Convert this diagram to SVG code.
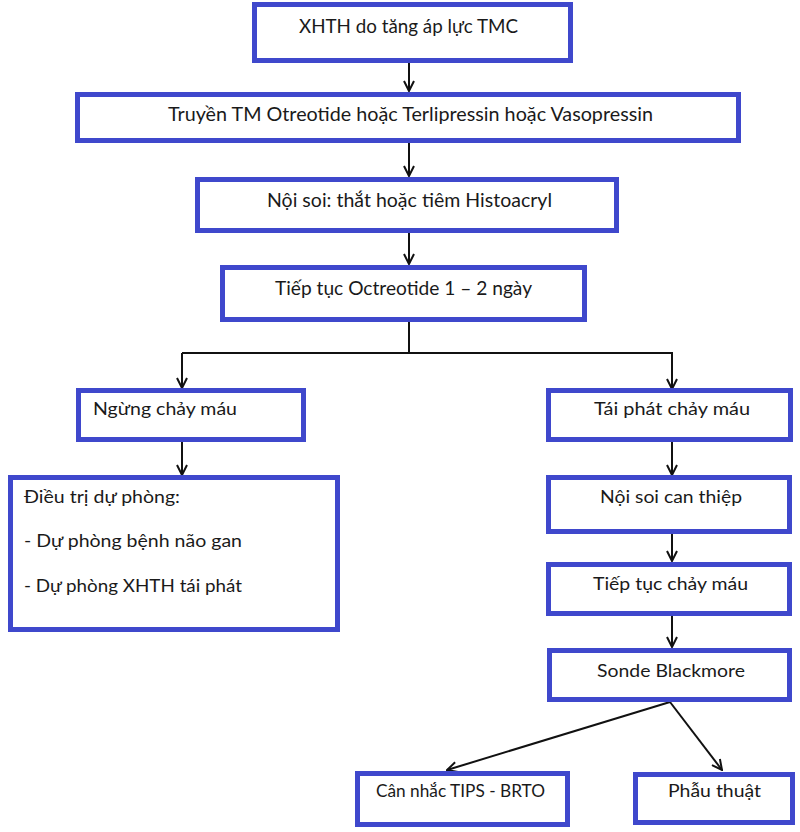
<svg xmlns="http://www.w3.org/2000/svg" width="800" height="832" viewBox="0 0 800 832">
<defs>
<style>
.box{fill:#fff;stroke:#3F48CC;stroke-width:5}
.t{font-family:Lato,"Open Sans","Liberation Sans",sans-serif;font-size:19px;fill:#1a1a1a}
.s{font-size:18px}
.c{text-anchor:middle}
.ln{fill:none;stroke:#111;stroke-width:2}
</style>
<marker id="ah" viewBox="0 0 12 12" refX="11" refY="6" markerWidth="12" markerHeight="12" markerUnits="userSpaceOnUse" orient="auto">
<path d="M1,1 L11,6 L1,11" fill="none" stroke="#111" stroke-width="2"/>
</marker>
</defs>
<rect width="800" height="832" fill="#fff"/>
<g id="connectors">
<line class="ln" x1="409" y1="62" x2="409" y2="91" marker-end="url(#ah)"/>
<line class="ln" x1="409" y1="142" x2="409" y2="176" marker-end="url(#ah)"/>
<line class="ln" x1="409" y1="233" x2="409" y2="264" marker-end="url(#ah)"/>
<polyline class="ln" points="409,322 409,353"/>
<polyline class="ln" points="182,353 672,353 672,389" marker-end="url(#ah)"/>
<line class="ln" x1="182" y1="353" x2="182" y2="388" marker-end="url(#ah)"/>
<line class="ln" x1="182" y1="442" x2="182" y2="475" marker-end="url(#ah)"/>
<line class="ln" x1="672" y1="442" x2="672" y2="475" marker-end="url(#ah)"/>
<line class="ln" x1="672" y1="534" x2="672" y2="561" marker-end="url(#ah)"/>
<line class="ln" x1="672" y1="616" x2="672" y2="647" marker-end="url(#ah)"/>
<line class="ln" x1="670" y1="702" x2="447" y2="770" marker-end="url(#ah)"/>
<line class="ln" x1="670" y1="702" x2="722" y2="770" marker-end="url(#ah)"/>
</g>
<g id="n1"><rect class="box" x="254.5" y="4.5" width="316" height="56"/><text class="t c" x="408.5" y="33" textLength="219" lengthAdjust="spacingAndGlyphs">XHTH do tăng áp lực TMC</text></g>
<g id="n2"><rect class="box" x="77.5" y="94.5" width="661" height="46"/><text class="t c" x="410.5" y="121" textLength="485" lengthAdjust="spacingAndGlyphs">Truyền TM Otreotide hoặc Terlipressin  hoặc Vasopressin</text></g>
<g id="n3"><rect class="box" x="197.5" y="179.5" width="419" height="51"/><text class="t c" x="409.5" y="207" textLength="285" lengthAdjust="spacingAndGlyphs">Nội soi: thắt hoặc tiêm Histoacryl</text></g>
<g id="n4"><rect class="box" x="222.5" y="267.5" width="362" height="52"/><text class="t c" x="403.5" y="295" textLength="257" lengthAdjust="spacingAndGlyphs">Tiếp tục Octreotide 1 – 2 ngày</text></g>
<g id="n5"><rect class="box" x="78.5" y="390.5" width="225" height="49"/><text class="t s" x="93" y="415" textLength="144" lengthAdjust="spacingAndGlyphs">Ngừng chảy máu</text></g>
<g id="n6"><rect class="box" x="10.5" y="477.5" width="327" height="152"/>
<text class="t s" x="24" y="503" textLength="156" lengthAdjust="spacingAndGlyphs">Điều  trị dự phòng:</text>
<text class="t s" x="24" y="547" textLength="218" lengthAdjust="spacingAndGlyphs">- Dự phòng  bệnh  não gan</text>
<text class="t s" x="24" y="592" textLength="218" lengthAdjust="spacingAndGlyphs">- Dự phòng  XHTH tái phát</text></g>
<g id="n7"><rect class="box" x="548.5" y="390.5" width="242" height="49"/><text class="t s c" x="672" y="415" textLength="156" lengthAdjust="spacingAndGlyphs">Tái phát chảy máu</text></g>
<g id="n8"><rect class="box" x="548.5" y="477.5" width="241" height="54"/><text class="t s c" x="671" y="503" textLength="142" lengthAdjust="spacingAndGlyphs">Nội soi can thiệp</text></g>
<g id="n9"><rect class="box" x="548.5" y="564.5" width="241" height="49"/><text class="t s c" x="670.5" y="590" textLength="155" lengthAdjust="spacingAndGlyphs">Tiếp tục chảy máu</text></g>
<g id="n10"><rect class="box" x="549.5" y="650.5" width="240" height="49"/><text class="t s c" x="671" y="677" textLength="148" lengthAdjust="spacingAndGlyphs">Sonde Blackmore</text></g>
<g id="n11"><rect class="box" x="357.5" y="773.5" width="210" height="51"/><text class="t s c" x="460.5" y="797" textLength="169" lengthAdjust="spacingAndGlyphs">Cân nhắc TIPS - BRTO</text></g>
<g id="n12"><rect class="box" x="635.5" y="774.5" width="157" height="48"/><text class="t s c" x="714.5" y="797" textLength="93" lengthAdjust="spacingAndGlyphs">Phẫu thuật</text></g>
</svg>
